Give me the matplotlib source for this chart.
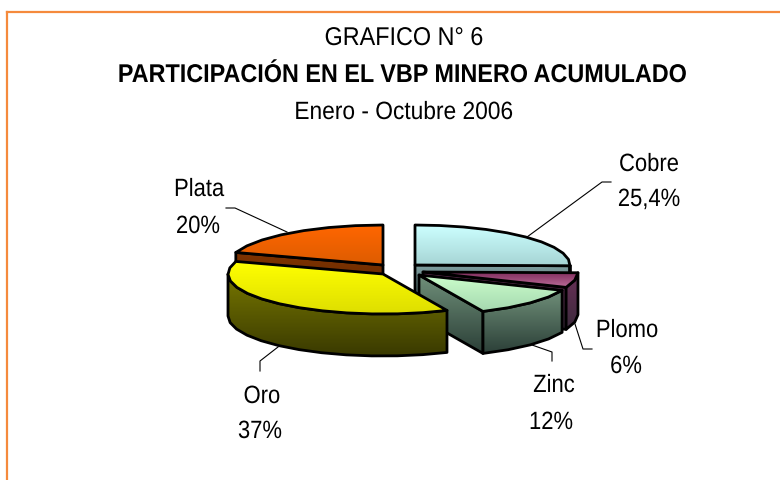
import matplotlib
matplotlib.use("Agg")
import matplotlib.pyplot as plt
from matplotlib.colors import LinearSegmentedColormap
from matplotlib.patches import Polygon
from matplotlib.patheffects import AbstractPathEffect
from matplotlib.transforms import Affine2D
import numpy as np

plt.rcParams["font.family"] = ["Liberation Sans", "DejaVu Sans"]

# clockwise from 12 o'clock
labels = ["Cobre", "Plomo", "Zinc", "Oro", "Plata"]
pct_labels = ["25,4%", "6%", "12%", "37%", "20%"]
values = [25.4, 6, 12, 37, 20]

# pie apex of each exploded slice, in pixels
apex = {"Cobre": (415, 266), "Plomo": (423, 273), "Zinc": (419, 276), "Oro": (383, 275), "Plata": (383, 266)}
top_cols = {
    "Cobre": ("#CCFFFF", "#A6D4D4"),
    "Plomo": ("#7E2A5A", "#B86A96"),
    "Zinc": ("#CCFFCC", "#A6D8B0"),
    "Oro": ("#FFFF00", "#DEDE00"),
    "Plata": ("#FF6600", "#DD5C00"),
}
side_cols = {
    "Cobre": ("#7F9FA0", "#3A5050"),
    "Plomo": ("#6A3058", "#3C2A3C"),
    "Zinc": ("#70907A", "#2C4038"),
    "Oro": ("#767600", "#3A3A00"),
    "Plata": ("#803300", "#5A2800"),
}
RX, RY, DEPTH = 155, 40, 42


class Narrow(AbstractPathEffect):
    # no narrow font installed, so squeeze the glyphs around the text centre
    def __init__(self, sx):
        super().__init__()
        self.sx = sx

    def draw_path(self, renderer, gc, tpath, affine, rgbFace=None):
        xs = tpath.vertices[:, 0]
        cx = (xs.min() + xs.max()) / 2
        squeeze = Affine2D().translate(-cx, 0).scale(self.sx, 1).translate(cx, 0)
        renderer.draw_path(gc, tpath, squeeze + affine, rgbFace)


def ell(c, deg):
    a = np.radians(deg)
    return np.column_stack([c[0] + RX * np.sin(a), c[1] - RY * np.cos(a)])


def grad_poly(ax, xy, cols, z):
    xy = np.asarray(xy)
    cmap = LinearSegmentedColormap.from_list("g", cols)
    y0, y1 = xy[:, 1].min(), xy[:, 1].max()
    im = ax.imshow(np.linspace(0, 1, 64)[:, None], cmap=cmap, aspect="auto",
                   extent=(xy[:, 0].min(), xy[:, 0].max(), y1, y0), zorder=z)
    patch = Polygon(xy, closed=True, fc="none", ec="black", lw=2.0, joinstyle="round", zorder=z + 0.1)
    ax.add_patch(patch)
    im.set_clip_path(patch)


def draw_slice(ax, name, start, end, z):
    c = np.array(apex[name], dtype=float)
    angs = np.linspace(start, end, max(int((end - start) / 9), 2) + 1)
    down = np.array([0, DEPTH])

    # radial faces turned towards the viewer
    if 180 < start < 360:
        p = ell(c, start)[0]
        grad_poly(ax, [c, p, p + down, c + down], side_cols[name], z)
    if 0 < end < 180:
        p = ell(c, end)[0]
        grad_poly(ax, [c, p, p + down, c + down], side_cols[name], z)

    # outer rim, only the front half
    lo, hi = max(start, 90), min(end, 270)
    if hi > lo:
        front = np.linspace(lo, hi, max(int((hi - lo) / 9), 2) + 1)
        rim = ell(c, front)
        grad_poly(ax, np.vstack([rim, (rim + down)[::-1]]), side_cols[name], z + 0.2)

    grad_poly(ax, np.vstack([c, ell(c, angs)]), top_cols[name], z + 0.4)


fig = plt.figure(figsize=(7.8, 4.81), dpi=100)
ax = fig.add_axes([0, 0, 1, 1])

# back to front
stops = np.cumsum([0] + values) * 360 / sum(values)
span = {n: (stops[i], stops[i + 1]) for i, n in enumerate(labels)}
for i, name in enumerate(["Cobre", "Plata", "Plomo", "Zinc", "Oro"]):
    draw_slice(ax, name, span[name][0], span[name][1], 2 + i)

ax.set_xlim(0, 780)
ax.set_ylim(481, 0)
ax.axis("off")

# frame, only top and left are in the picture
ax.plot([7, 7], [481, 13], color="#F58A3C", lw=1.6, zorder=1)
ax.plot([7, 780], [13, 13], color="#F58A3C", lw=1.6, zorder=1)

narrow = [Narrow(0.88)]
title_narrow = [Narrow(0.91)]
ax.text(404, 39, "GRAFICO N° 6", ha="center", va="center", fontsize=18.5, path_effects=title_narrow)
ax.text(403, 76, "PARTICIPACIÓN EN EL VBP MINERO ACUMULADO", ha="center", va="center",
        fontsize=18.5, fontweight="bold", path_effects=title_narrow)
ax.text(404, 113, "Enero - Octubre 2006", ha="center", va="center", fontsize=18, path_effects=title_narrow)

name_pos = {"Cobre": (649, 165), "Plomo": (627, 331), "Zinc": (554, 386), "Oro": (262, 397), "Plata": (199, 190)}
pct_pos = {"Cobre": (649, 200), "Plomo": (626, 367), "Zinc": (551, 423), "Oro": (260, 432), "Plata": (198, 227)}
for name, pct in zip(labels, pct_labels):
    ax.text(*name_pos[name], name, ha="center", va="center", fontsize=18, path_effects=narrow)
    ax.text(*pct_pos[name], pct, ha="center", va="center", fontsize=18, path_effects=narrow)

leaders = [
    ([527, 602, 611], [238, 183, 183]),
    ([287, 235, 226], [233, 209, 209]),
    ([278, 260, 260], [348, 362, 372]),
    ([532, 552, 552], [346, 353, 362]),
    ([575, 583, 592], [325, 350, 350]),
]
for xs, ys in leaders:
    ax.plot(xs, ys, color="black", lw=0.8, zorder=1)

fig.savefig("out.png", dpi=100)
